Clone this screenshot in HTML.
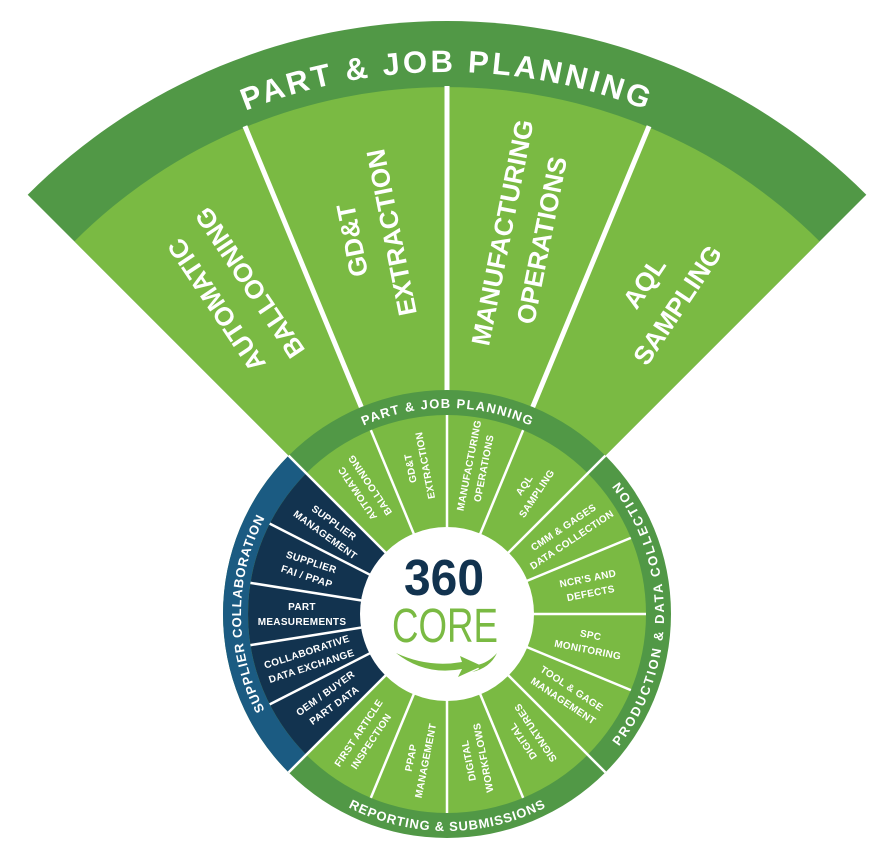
<!DOCTYPE html>
<html><head><meta charset="utf-8"><style>
html,body{margin:0;padding:0;background:#fff;}
svg{display:block;font-family:"Liberation Sans",sans-serif;font-weight:bold;}
</style></head><body>
<svg width="893" height="864" viewBox="0 0 893 864" xmlns="http://www.w3.org/2000/svg">
<defs>
<path id="cwBig" d="M989,614 A542,542 0 0 1 -95,614 A542,542 0 0 1 989,614"/>
<path id="cw" d="M653,614 A206,206 0 0 1 241,614 A206,206 0 0 1 653,614"/>
<path id="ccw" d="M230,614 A217,217 0 0 0 664,614 A217,217 0 0 0 230,614"/>
</defs>
<!-- fan -->
<path d="M447,614 L27.7,194.7 A593,593 0 0 1 866.3,194.7 Z" fill="#519846"/>
<path d="M447,614 L74.4,241.4 A527,527 0 0 1 819.6,241.4 Z" fill="#7aba43"/>
<g transform="translate(447,614)" stroke="#fff" stroke-width="5">
<line x1="218" x2="528" transform="rotate(-112.5)"/>
<line x1="218" x2="528" transform="rotate(-90)"/>
<line x1="218" x2="528" transform="rotate(-67.5)"/>
</g>
<text font-size="31" fill="#fff" letter-spacing="3"><textPath href="#cwBig" startOffset="75%" text-anchor="middle">PART &amp; JOB PLANNING</textPath></text>
<g fill="#fff" font-size="26" text-anchor="middle">
<g transform="translate(447,614) rotate(-123.75) translate(385,0)"><text y="-11">AUTOMATIC</text><text y="29">BALLOONING</text></g>
<g transform="translate(447,614) rotate(-101.25) translate(385,0)"><text y="-11">GD&amp;T</text><text y="29">EXTRACTION</text></g>
<g transform="translate(447,614) rotate(-78.75) translate(385,0)"><text y="-11">MANUFACTURING</text><text y="29">OPERATIONS</text></g>
<g transform="translate(447,614) rotate(-56.25) translate(385,0)"><text y="-11">AQL</text><text y="29">SAMPLING</text></g>
</g>
<!-- wheel -->
<circle cx="447" cy="614" r="224" fill="#519846"/>
<path d="M447,614 L288.6,455.6 A224,224 0 0 0 288.6,772.4 Z" fill="#1b5b82"/>
<circle cx="447" cy="614" r="199" fill="#7aba43"/>
<path d="M447,614 L306.3,473.3 A199,199 0 0 0 306.3,754.7 Z" fill="#12334f"/>
<g transform="translate(447,614)" stroke="#fff" stroke-width="2.5">
<line x1="80" x2="224" transform="rotate(-45)"/>
<line x1="80" x2="224" transform="rotate(-135)"/>
<line x1="80" x2="224" transform="rotate(-225)"/>
<line x1="80" x2="224" transform="rotate(-315)"/>
<line x1="80" x2="199" transform="rotate(-112.5)"/>
<line x1="80" x2="199" transform="rotate(-90)"/>
<line x1="80" x2="199" transform="rotate(-67.5)"/>
<line x1="80" x2="199" transform="rotate(-22.5)"/>
<line x1="80" x2="199" transform="rotate(0)"/>
<line x1="80" x2="199" transform="rotate(22.5)"/>
<line x1="80" x2="199" transform="rotate(67.5)"/>
<line x1="80" x2="199" transform="rotate(90)"/>
<line x1="80" x2="199" transform="rotate(112.5)"/>
<line x1="80" x2="199" transform="rotate(-153)"/>
<line x1="80" x2="199" transform="rotate(-171)"/>
<line x1="80" x2="199" transform="rotate(-189)"/>
<line x1="80" x2="199" transform="rotate(-207)"/>
</g>
<circle cx="447" cy="614" r="87" fill="#fff"/>
<!-- band labels -->
<g fill="#fff" font-size="13">
<text><textPath href="#cw" startOffset="75%" text-anchor="middle" textLength="172" lengthAdjust="spacing">PART &amp; JOB PLANNING</textPath></text>
<text><textPath href="#cw" startOffset="50%" text-anchor="middle" textLength="200" lengthAdjust="spacing">SUPPLIER COLLABORATION</textPath></text>
<text><textPath href="#ccw" startOffset="25%" text-anchor="middle" textLength="205" lengthAdjust="spacing">REPORTING &amp; SUBMISSIONS</textPath></text>
<text><textPath href="#ccw" startOffset="50%" text-anchor="middle" textLength="285" lengthAdjust="spacing">PRODUCTION &amp; DATA COLLECTION</textPath></text>
</g>
<!-- segment labels -->
<g fill="#fff" font-size="10" text-anchor="middle" letter-spacing="0.3">
<g transform="translate(447,614) rotate(-123.75) translate(150,0)"><text y="-4">AUTOMATIC</text><text y="11">BALLOONING</text></g>
<g transform="translate(447,614) rotate(-101.25) translate(150,0)"><text y="-4">GD&amp;T</text><text y="11">EXTRACTION</text></g>
<g transform="translate(447,614) rotate(-78.75) translate(150,0)"><text y="-4">MANUFACTURING</text><text y="11">OPERATIONS</text></g>
<g transform="translate(447,614) rotate(-56.25) translate(150,0)"><text y="-4">AQL</text><text y="11">SAMPLING</text></g>
<g transform="translate(447,614) rotate(-33.75) translate(145,0)"><text y="-4">CMM &amp; GAGES</text><text y="11">DATA COLLECTION</text></g>
<g transform="translate(447,614) rotate(-11.25) translate(145,0)"><text y="-4">NCR'S AND</text><text y="11">DEFECTS</text></g>
<g transform="translate(447,614) rotate(11.25) translate(145,0)"><text y="-4">SPC</text><text y="11">MONITORING</text></g>
<g transform="translate(447,614) rotate(33.75) translate(145,0)"><text y="-4">TOOL &amp; GAGE</text><text y="11">MANAGEMENT</text></g>
<g transform="translate(447,614) rotate(56.25) translate(148,0) rotate(180)"><text y="-4">DIGITAL</text><text y="11">SIGNATURES</text></g>
<g transform="translate(447,614) rotate(78.75) translate(148,0) rotate(180)"><text y="-4">DIGITAL</text><text y="11">WORKFLOWS</text></g>
<g transform="translate(447,614) rotate(101.25) translate(148,0) rotate(180)"><text y="-4">PPAP</text><text y="11">MANAGEMENT</text></g>
<g transform="translate(447,614) rotate(123.75) translate(148,0) rotate(180)"><text y="-4">FIRST ARTICLE</text><text y="11">INSPECTION</text></g>
<g transform="translate(447,614) rotate(-144) translate(145,0) rotate(180)"><text y="-4">SUPPLIER</text><text y="11">MANAGEMENT</text></g>
<g transform="translate(447,614) rotate(-162) translate(145,0) rotate(180)"><text y="-4">SUPPLIER</text><text y="11">FAI / PPAP</text></g>
<g transform="translate(447,614) rotate(-180) translate(145,0) rotate(180)"><text y="-4">PART</text><text y="11">MEASUREMENTS</text></g>
<g transform="translate(447,614) rotate(-198) translate(145,0) rotate(180)"><text y="-4">COLLABORATIVE</text><text y="11">DATA EXCHANGE</text></g>
<g transform="translate(447,614) rotate(-216) translate(145,0) rotate(180)"><text y="-4">OEM / BUYER</text><text y="11">PART DATA</text></g>
</g>
<!-- logo -->
<text x="444" y="595" font-size="51" fill="#12334f" text-anchor="middle" textLength="80" lengthAdjust="spacingAndGlyphs">360</text>
<text x="445" y="642" font-size="48" fill="#7aba43" text-anchor="middle" textLength="106" lengthAdjust="spacingAndGlyphs" style="font-weight:normal">CORE</text>
<path d="M396,653 Q425,676 462,669 L458,677 L482,666 L460,656 L462,662 Q428,668 396,653 Z" fill="#7aba43"/>
<path d="M472,672 Q490,668 497,653 Q488,663 477,665 L479,669 Z" fill="#7aba43"/>
</svg>
</body></html>
